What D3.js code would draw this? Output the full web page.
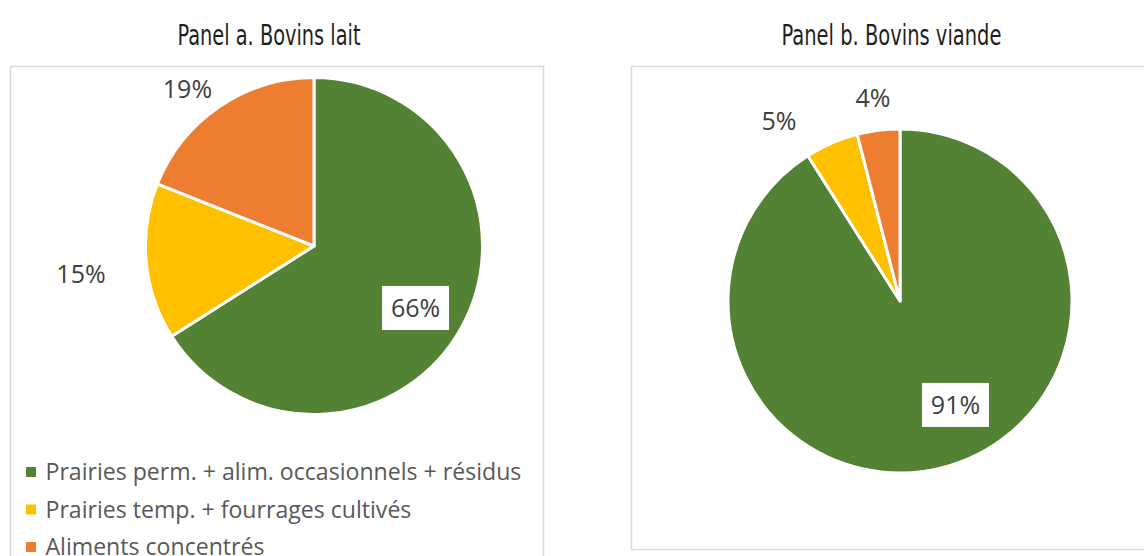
<!DOCTYPE html>
<html>
<head>
<meta charset="utf-8">
<script src="https://cdn.jsdelivr.net/npm/d3@7"></script>
<style>
  html, body { margin: 0; padding: 0; background: #fff; }
  svg { display: block; }
</style>
</head>
<body>
<svg id="chart" width="1144" height="556"></svg>
<script>
// ---- data ----
const categories = [
  "Prairies perm. + alim. occasionnels + résidus",
  "Prairies temp. + fourrages cultivés",
  "Aliments concentrés"
];
const panelTitles = ["Panel a. Bovins lait", "Panel b. Bovins viande"];
const valuesLait = [66, 15, 19];
const valuesViande = [91, 5, 4];
const colors = ["#548235", "#FFC000", "#ED7D31"];

// ---- layout ----
const svg = d3.select("#chart");
const panels = [
  { title: panelTitles[0], values: valuesLait, box: [10, 66, 533, 520], titleX: 269, titleW: 183,
    cx: 314, cy: 246, R: 168.5, legend: true,
    labels: [{ r: 0.706, da: 2.6, boxed: true }, { r: 1.393, da: -1.5 }, { r: 1.196, da: -4.7 }] },
  { title: panelTitles[1], values: valuesViande, box: [631, 66, 540, 483], titleX: 891.5, titleW: 220,
    cx: 900, cy: 301, R: 172, legend: false,
    labels: [{ r: 0.685, da: -11.9, boxed: true }, { r: 1.261, da: -10.5 }, { r: 1.191, da: -0.4 }] }
];

const pie = d3.pie().sort(null).value(d => d).startAngle(0).endAngle(2 * Math.PI);
const labelFont = "'Open Sans', 'Noto Sans', sans-serif";

panels.forEach(p => {
  // title
  svg.append("text")
    .attr("x", p.titleX).attr("y", 44.5)
    .attr("text-anchor", "middle")
    .attr("font-family", "'Liberation Sans Narrow', 'DejaVu Sans Condensed', 'Roboto', sans-serif")
    .attr("font-size", 28)
    .attr("fill", "#1f1f1f")
    .attr("textLength", p.titleW)
    .attr("lengthAdjust", "spacingAndGlyphs")
    .text(p.title);

  // frame
  svg.append("rect")
    .attr("x", p.box[0] + 0.5).attr("y", p.box[1] + 0.5)
    .attr("width", p.box[2]).attr("height", p.box[3])
    .attr("fill", "#fff").attr("stroke", "#d9d9d9").attr("stroke-width", 1.5);

  const g = svg.append("g").attr("transform", `translate(${p.cx},${p.cy})`);
  const arcs = pie(p.values);
  const arc = d3.arc().innerRadius(0).outerRadius(p.R);

  g.selectAll("path.slice").data(arcs).enter().append("path")
    .attr("class", "slice")
    .attr("d", arc)
    .attr("fill", (d, i) => colors[i])
    .attr("stroke", "#fff").attr("stroke-width", 3).attr("stroke-linejoin", "round");

  arcs.forEach((d, i) => {
    const L = p.labels[i];
    const mid = (d.startAngle + d.endAngle) / 2 + L.da * Math.PI / 180;
    const rr = L.r * p.R;
    const lx = Math.sin(mid) * rr, ly = -Math.cos(mid) * rr;
    const lg = g.append("g").attr("transform", `translate(${lx},${ly})`);
    const t = lg.append("text")
      .attr("text-anchor", "middle")
      .attr("dy", "0.36em")
      .attr("font-family", labelFont)
      .attr("font-size", 25)
      .attr("fill", "#404040")
      .text(d.data + "%");
    if (L.boxed) {
      lg.insert("rect", "text")
        .attr("x", -33.5).attr("y", -22)
        .attr("width", 67).attr("height", 44)
        .attr("fill", "#fff");
    }
  });

  if (p.legend) {
    const lgd = svg.append("g").attr("transform", "translate(26,0)");
    categories.forEach((c, i) => {
      const y = 472 + i * 37.5;
      lgd.append("rect").attr("x", 0).attr("y", y - 5).attr("width", 10).attr("height", 10)
        .attr("fill", colors[i]);
      lgd.append("text").attr("x", 19.5).attr("y", y).attr("dy", "0.36em")
        .attr("font-family", labelFont).attr("font-size", 23.1).attr("fill", "#595959")
        .text(c);
    });
  }
});
</script>
</body>
</html>
